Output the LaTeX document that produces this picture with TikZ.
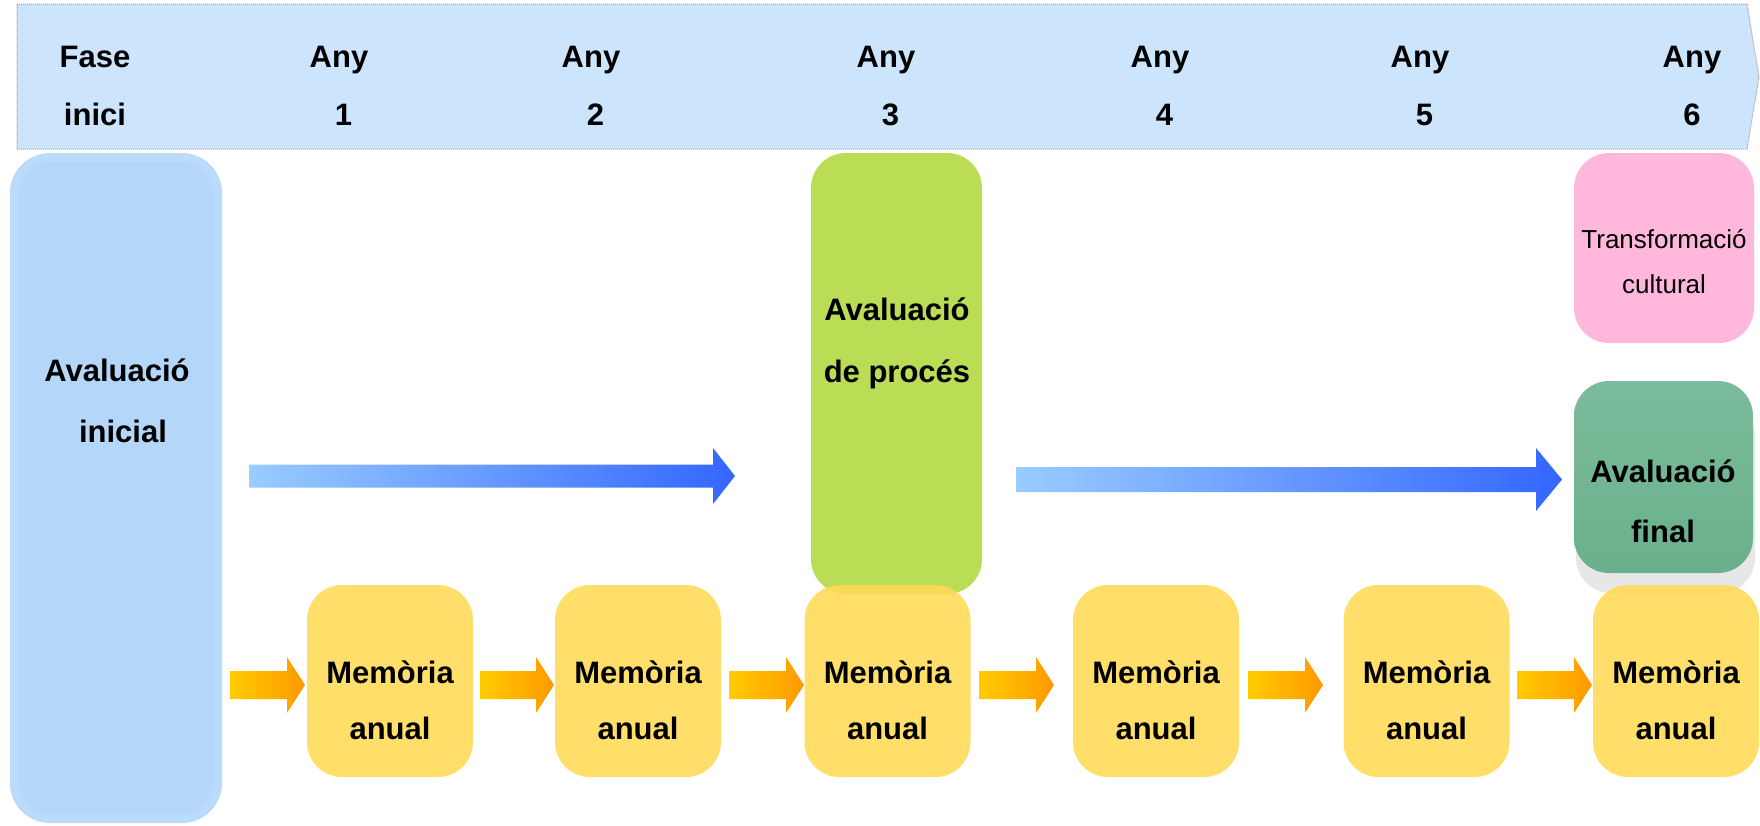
\documentclass[tikz,border=0pt]{standalone}
\usepackage{fontspec}
\setmainfont{Liberation Sans}
\usetikzlibrary{calc}
\definecolor{bannerblue}{RGB}{204,228,252}
\definecolor{iniout}{RGB}{186,219,252}
\definecolor{iniin}{RGB}{180,214,248}
\definecolor{procgreen}{RGB}{187,221,86}
\definecolor{memoyellow}{RGB}{255,218,85}
\definecolor{pinkbox}{RGB}{255,184,219}
\definecolor{finaltop}{RGB}{122,188,155}
\definecolor{finalbot}{RGB}{106,176,140}
\definecolor{shadowgray}{RGB}{231,231,231}
\definecolor{arrbluel}{RGB}{153,204,255}
\definecolor{arrbluer}{RGB}{51,102,255}
\definecolor{arrorl}{RGB}{255,204,0}
\definecolor{arrorr}{RGB}{255,153,0}
\newcommand\mkblockarrow[6]{%
  \path[#1] ($(#2)+(0,#4)$) -- ($(#3)+(-#6,#4)$) -- ($(#3)+(-#6,#5)$) -- (#3)
    -- ($(#3)+(-#6,-#5)$) -- ($(#3)+(-#6,-#4)$) -- ($(#2)+(0,-#4)$) -- cycle;}
\tikzset{
  lbl/.style={font=\bfseries\fontsize{31}{58}\selectfont, align=center, inner sep=0pt, anchor=base},
  lblreg/.style={font=\fontsize{26}{45}\selectfont, align=center, inner sep=0pt, anchor=base},
  memo/.style={fill=memoyellow, fill opacity=0.88, rounded corners=35pt,
    minimum width=166pt, minimum height=192pt, inner sep=0pt},
  orangearr/.style={left color=arrorl, right color=arrorr},
  bluearr/.style={left color=arrbluel, right color=arrbluer},
}
\begin{document}
\begin{tikzpicture}[x=1pt,y=-1pt]
\useasboundingbox (0,0) rectangle (1760,825);
% banner
\path[fill=bannerblue, draw=gray!75, densely dotted, line width=1pt]
  (17,4) -- (1747,4) -- (1759,77) -- (1747,149) -- (17,149) -- cycle;
\node[lbl] (h0) at (95,125) {Fase\\inici};
\node[lbl] (h1) at (339,125) {Any\\\hspace*{9pt}1};
\node[lbl] (h2) at (591,125) {Any\\\hspace*{9pt}2};
\node[lbl] (h3) at (886,125) {Any\\\hspace*{9pt}3};
\node[lbl] (h4) at (1160,125) {Any\\\hspace*{9pt}4};
\node[lbl] (h5) at (1420,125) {Any\\\hspace*{9pt}5};
\node[lbl] (h6) at (1692,125) {Any\\6};
% initial evaluation
\path[fill=iniout, rounded corners=40pt] (10,153) rectangle (222,823);
\node[fill=iniin, rounded corners=32pt, minimum width=194pt, minimum height=652pt, inner sep=0pt] (ini) at (116,488) {};
\node[lbl, font=\bfseries\fontsize{31}{61}\selectfont] (init) at (117,442) {Avaluació\\\hspace*{12pt}inicial};
% process evaluation
\node[fill=procgreen, rounded corners=35pt, minimum width=171pt, minimum height=441pt, inner sep=0pt] (proc) at (896.5,373.5) {};
\node[lbl, font=\bfseries\fontsize{31}{62}\selectfont] (proct) at (897,382) {Avaluació\\de procés};
% cultural transformation
\node[fill=pinkbox, rounded corners=35pt, minimum width=180pt, minimum height=190pt, inner sep=0pt] (transf) at (1664,248) {};
\node[lblreg] (transft) at (1664,293) {Transformació\\cultural};
% final evaluation
\path[fill=shadowgray, rounded corners=35pt] (1576,401) rectangle (1755,593);
\path[top color=finaltop, bottom color=finalbot, rounded corners=35pt] (1574,381) rectangle (1753,573);
\node[inner sep=0pt, minimum width=179pt, minimum height=192pt] (final) at (1663.5,477) {};
\node[lbl, font=\bfseries\fontsize{31}{60}\selectfont] (finalt) at (1663,542) {Avaluació\\final};
% blue arrows
\coordinate (b1s) at (249,476);
\coordinate (b1e) at (735,476);
\coordinate (b2s) at (1016,479.5);
\coordinate (b2e) at (1562,479.5);
\mkblockarrow{bluearr}{b1s}{b1e}{11.5}{28}{22}
\mkblockarrow{bluearr}{b2s}{b2e}{12.5}{31.5}{26}
% annual reports
\foreach \i/\cx in {1/390,2/638,3/887.5,4/1156,5/1426.5,6/1676}{
  \node[memo] (m\i) at (\cx,681) {};
  \node[lbl, font=\bfseries\fontsize{31}{56}\selectfont] (m\i t) at (\cx,739) {Memòria\\anual};
}
% orange arrows
\foreach \i/\s/\e in {1/230/305,2/480/554,3/729/804,4/979/1054,5/1248/1323,6/1517/1592}{
  \coordinate (o\i s) at (\s,685);
  \coordinate (o\i e) at (\e,685);
  \mkblockarrow{orangearr}{o\i s}{o\i e}{14}{28}{18}
}
\end{tikzpicture}
\end{document}
